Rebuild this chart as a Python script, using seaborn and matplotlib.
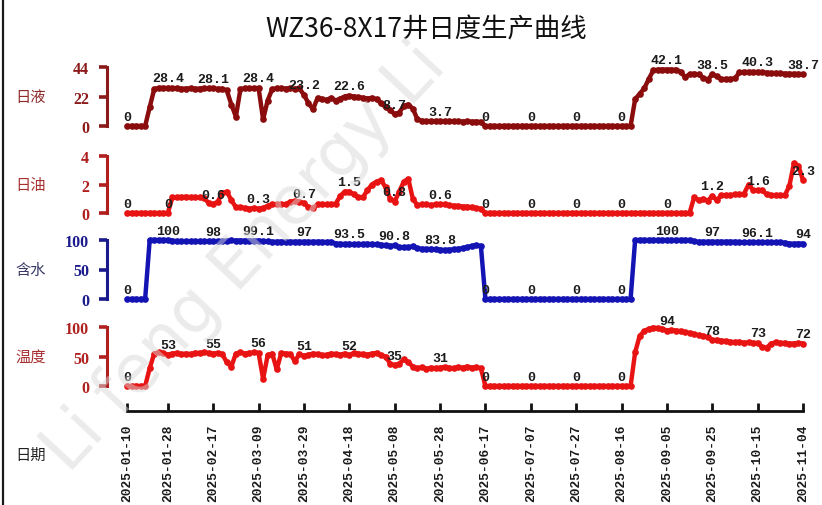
import matplotlib
matplotlib.use("Agg")
import numpy as np
import pandas as pd
import matplotlib.pyplot as plt
import matplotlib.dates as mdates
from matplotlib.lines import Line2D
import seaborn as sns

# ---------------------------------------------------------------- data
title = "WZ36-8X17井日度生产曲线"

# one reading every second day, 2025-01-10 .. 2025-11-04 (150 readings)
dates = pd.date_range("2025-01-10", "2025-11-04", freq="2D")

tick_dates = ["2025-01-10", "2025-01-28", "2025-02-17", "2025-03-09",
              "2025-03-29", "2025-04-18", "2025-05-08", "2025-05-28",
              "2025-06-17", "2025-07-07", "2025-07-27", "2025-08-16",
              "2025-09-05", "2025-09-25", "2025-10-15", "2025-11-04"]

# daily liquid (each row covers 20 days)
liquid = [
    0, 0, 0, 0, 0, 14, 27.5, 28.4, 28.3, 28.4,
    28.2, 28.0, 27.8, 27.9, 28.0, 27.7, 27.9, 28.1, 28.0, 28.1,
    27.6, 27.8, 26.5, 16, 7, 27.5, 28, 28.2, 28, 28.4,
    5, 19, 27.5, 28, 28.1, 27.9, 28, 27.8, 28, 23.2,
    17, 12.5, 21, 20, 19.5, 21, 19, 20.5, 22, 22.6,
    22, 21.5, 21, 20.5, 21, 20, 17, 14, 12, 8.7,
    10, 15, 16, 13, 5, 3.8, 3.5, 3.7, 3.6, 3.7,
    3.5, 3.6, 3.4, 3.5, 3.3, 3.4, 3.2, 3.3, 3.0, 0,
    0, 0, 0, 0, 0, 0, 0, 0, 0, 0,
    0, 0, 0, 0, 0, 0, 0, 0, 0, 0,
    0, 0, 0, 0, 0, 0, 0, 0, 0, 0,
    0, 0, 20, 24, 28, 35, 41.5, 42, 42.1, 42.1,
    42, 42, 40.5, 36.5, 38.5, 39, 38.5, 36, 34.5, 38.5,
    37, 35, 35, 35, 35.5, 40, 40.3, 40.3, 40.2, 40.3,
    40, 39.8, 39.5, 39.5, 39.2, 39, 39, 38.8, 38.8, 38.7,
]

# daily oil
oil = [
    0, 0, 0, 0, 0, 0, 0, 0, 0, 0,
    1.1, 1.1, 1.1, 1.15, 1.1, 1.1, 1.1, 1.05, 0.7, 0.6,
    0.8, 1.4, 1.5, 0.9, 0.4, 0.4, 0.35, 0.3, 0.35, 0.3,
    0.35, 0.5, 0.6, 0.6, 0.6, 0.6, 0.8, 0.85, 0.8, 0.7,
    0.4, 0.35, 0.6, 0.6, 0.6, 0.6, 0.65, 1.2, 1.5, 1.5,
    1.3, 1.1, 1.1, 1.6, 2.0, 2.2, 2.3, 1.8, 1.0, 0.8,
    1.5, 2.2, 2.4, 1.0, 0.55, 0.6, 0.6, 0.55, 0.6, 0.6,
    0.6, 0.55, 0.5, 0.5, 0.45, 0.45, 0.4, 0.35, 0.3, 0,
    0, 0, 0, 0, 0, 0, 0, 0, 0, 0,
    0, 0, 0, 0, 0, 0, 0, 0, 0, 0,
    0, 0, 0, 0, 0, 0, 0, 0, 0, 0,
    0, 0, 0, 0, 0, 0, 0, 0, 0, 0,
    0, 0, 0, 0, 0, 1.1, 0.9, 1.0, 0.85, 1.2,
    0.9, 1.25, 1.25, 1.25, 1.3, 1.3, 1.35, 2.0, 1.6, 1.6,
    1.6, 1.3, 1.25, 1.25, 1.25, 1.25, 1.9, 3.5, 3.3, 2.3,
]

# water cut, %
water_cut = [
    0, 0, 0, 0, 0, 100, 100, 100, 100, 100,
    99, 98, 98, 98, 98, 98, 98, 98, 98, 98,
    98, 98, 99, 99.2, 99.1, 99, 99.1, 99, 99.1, 99.1,
    97.5, 97.5, 97, 97, 97.2, 97, 97, 97, 97, 97,
    97, 97, 97, 96.8, 96.5, 97, 94, 93.5, 93, 93.5,
    92.5, 93, 93, 93.5, 93, 92.5, 92, 91, 90, 90.8,
    88, 87.5, 88, 89, 86, 85, 84.5, 85, 84, 83.8,
    83, 83.5, 84, 85, 86, 88, 90, 91, 90, 0,
    0, 0, 0, 0, 0, 0, 0, 0, 0, 0,
    0, 0, 0, 0, 0, 0, 0, 0, 0, 0,
    0, 0, 0, 0, 0, 0, 0, 0, 0, 0,
    0, 0, 100, 100, 100, 100, 100, 100, 100, 100,
    100, 100, 100, 100, 100, 97.5, 97, 97, 97, 97,
    97, 97, 97, 97, 97, 96.2, 96, 96, 96.1, 96.1,
    96, 96, 96, 96, 96, 95.5, 94, 93.5, 94, 94,
]

# wellhead temperature
temperature = [
    0, 0, 0, 0, 0, 30, 55, 57, 56, 53,
    55, 56, 54, 55, 54, 56, 56, 57, 56, 55,
    56, 54, 40, 33, 55, 57, 55, 56, 57, 56,
    12, 52, 55, 28, 56, 55, 54, 42, 54, 51,
    53, 55, 54, 52, 53, 55, 54, 53, 55, 52,
    56, 55, 54, 53, 55, 56, 52, 50, 38, 35,
    38, 45, 40, 33, 30, 32, 29, 31, 30, 31,
    32, 31, 30, 32, 31, 33, 31, 32, 30, 0,
    0, 0, 0, 0, 0, 0, 0, 0, 0, 0,
    0, 0, 0, 0, 0, 0, 0, 0, 0, 0,
    0, 0, 0, 0, 0, 0, 0, 0, 0, 0,
    0, 0, 57, 85, 93, 97, 99, 98, 97, 94,
    95, 94, 93, 91, 90, 88, 86, 85, 83, 78,
    78, 77, 76, 75, 74, 75, 73, 74, 73, 73,
    66, 65, 72, 74, 73, 73, 72, 72, 73, 72,
]

panel_names = ["日液", "日油", "含水", "温度"]
panel_series = [liquid, oil, water_cut, temperature]
panel_ticks = [[0, 22, 44], [0, 2, 4], [0, 50, 100], [0, 50, 100]]

# ---------------------------------------------------------------- style
sns.set_theme(style="white")
plt.rcParams["font.family"] = ["Noto Sans CJK SC", "DejaVu Sans"]

W, H = 822, 506
line_colors = ["#8a0c0c", "#e81414", "#1414b4", "#e81414"]
tick_colors = ["#8b1a1a", "#b01e1e", "#1a1a8c", "#b02020"]
name_colors = ["#8e2a2a", "#a83030", "#3a3a66", "#a83030"]
# pixel rows: (top tick, zero tick)
panel_rows = [(68, 127), (157, 214), (241, 300), (328, 387)]
x_left, x_right = 127, 803
pad_px = 8

fig = plt.figure(figsize=(W / 100, H / 100), dpi=100)
fig.patch.set_facecolor("white")

x0 = mdates.date2num(pd.Timestamp(tick_dates[0]))
x1 = mdates.date2num(pd.Timestamp(tick_dates[-1]))

label_idx = [dates.get_loc(pd.Timestamp(d)) for d in tick_dates]

axes = []
for i, (name, vals, ticks, (ytop, yzero)) in enumerate(
        zip(panel_names, panel_series, panel_ticks, panel_rows)):
    top_val = ticks[-1]
    u = top_val / (yzero - ytop)
    ax_top = ytop - pad_px
    ax_bot = yzero + pad_px
    ax = fig.add_axes([x_left / W, 1 - ax_bot / H,
                       (x_right - x_left) / W, (ax_bot - ax_top) / H])
    ax.set_facecolor("none")
    frame = pd.DataFrame({"date": dates, "value": vals})
    sns.lineplot(data=frame, x="date", y="value", ax=ax, color=line_colors[i],
                 linewidth=3.2, marker="o", markersize=4.8,
                 markeredgewidth=0, clip_on=False, sort=False)
    ax.set_xlim(x0, x1)
    ax.set_ylim(-pad_px * u, top_val + pad_px * u)
    ax.set_xlabel("")
    ax.set_ylabel("")

    for s in ["top", "right", "bottom"]:
        ax.spines[s].set_visible(False)
    sp = ax.spines["left"]
    sp.set_visible(True)
    sp.set_position(("outward", 14.4))
    sp.set_bounds(0, top_val)
    sp.set_color(tick_colors[i])
    sp.set_linewidth(2.2)
    ax.set_yticks(ticks)
    ax.set_yticklabels([str(t) for t in ticks])
    ax.tick_params(axis="y", direction="out", length=6, width=2.6,
                   color=tick_colors[i], labelcolor=tick_colors[i], pad=7,
                   left=True)
    for lab in ax.get_yticklabels():
        lab.set_fontfamily(["Liberation Serif", "DejaVu Serif"])
        lab.set_fontweight("bold")
        lab.set_fontsize(11.5)

    # value labels at every tick date
    for k in label_idx:
        v = vals[k]
        ax.annotate(f"{v:g}", (dates[k], v), xytext=(0, 2.5),
                    textcoords="offset points", ha="center", va="bottom",
                    fontsize=9.5, color="#1c1c1c", fontweight="bold",
                    family=["Liberation Mono", "DejaVu Sans Mono"],
                    annotation_clip=False)

    fig.text(15 / W, 1 - ((ytop + yzero) / 2) / H, name, ha="left",
             va="center", fontsize=11, color=name_colors[i])
    axes.append(ax)

# shared date axis under the last panel
ax = axes[-1]
sb = ax.spines["bottom"]
sb.set_visible(True)
sb.set_position(("outward", 12.5))
sb.set_color("#111111")
sb.set_linewidth(2.0)
ax.set_xticks([mdates.date2num(pd.Timestamp(d)) for d in tick_dates])
ax.set_xticklabels(tick_dates, rotation=90)
ax.tick_params(axis="x", direction="in", length=5.5, width=2.0,
               color="#111111", labelcolor="#1a1a1a", pad=9, bottom=True)
for lab in ax.get_xticklabels():
    lab.set_fontfamily(["Liberation Mono", "DejaVu Sans Mono"])
    lab.set_fontweight("bold")
    lab.set_fontsize(9.3)
    lab.set_verticalalignment("top")
for a in axes[:-1]:
    a.set_xticks([])

fig.text(15 / W, 1 - 455 / H, "日期", ha="left", va="center",
         fontsize=11, color="#222222")

fig.text(426 / W, 1 - 30 / H, title, ha="center", va="center",
         fontsize=19, color="#111111")

# page border on the left
fig.add_artist(Line2D([3 / W, 3 / W], [0, 1], color="#1a1a1a",
                      linewidth=1.6, transform=fig.transFigure))

# diagonal watermark
fig.text(245 / W, 1 - 258 / H, "Li feng Energy Li", rotation=47,
         rotation_mode="anchor", ha="center", va="center", fontsize=48,
         color="#d8d8d8", alpha=0.5, family="DejaVu Sans", zorder=10)

fig.savefig("out.png", dpi=100, facecolor="white")
